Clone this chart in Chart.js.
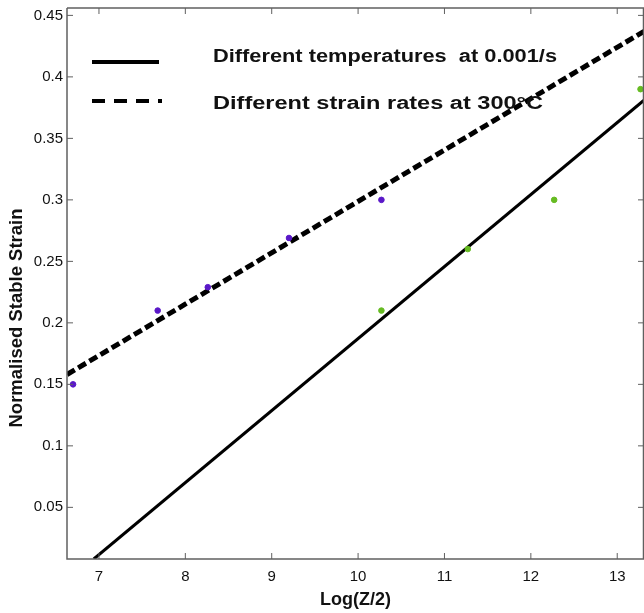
<!DOCTYPE html>
<html>
<head>
<meta charset="utf-8">
<script src="https://cdn.jsdelivr.net/npm/chart.js@4/dist/chart.umd.min.js"></script>
<style>
html,body{margin:0;padding:0;background:#fff;}
#c{display:block;}
</style>
</head>
<body>
<canvas id="c" width="644" height="613"></canvas>
<script>
// ---- data ----
const strainRateX = [6.70, 7.68, 8.26, 9.20, 10.27];
const strainRateY = [0.150, 0.210, 0.229, 0.269, 0.300];
const tempX = [10.27, 11.27, 12.27, 13.27];
const tempY = [0.210, 0.260, 0.300, 0.390];
// fitted lines (endpoints)
const tempFitX = [6.94, 13.31];
const tempFitY = [0.008, 0.381];
const rateFitX = [6.63, 13.31];
const rateFitY = [0.158, 0.437];
const xTicks = [7, 8, 9, 10, 11, 12, 13];
const yTicks = [0.05, 0.1, 0.15, 0.2, 0.25, 0.3, 0.35, 0.4, 0.45];
const legendLabels = ['Different temperatures  at 0.001/s', 'Different strain rates at 300\u00B0C'];
const yTitle = 'Normalised Stable Strain';

const toPts = (xs, ys) => xs.map((x, i) => ({x: x, y: ys[i]}));
const FONT = '"Liberation Sans", Arial, sans-serif';
const AXIS = '#606060';

function stretchedText(ctx, text, x, y, targetW) {
  const w = ctx.measureText(text).width;
  const sx = targetW / w;
  ctx.save();
  ctx.translate(x, y);
  ctx.scale(sx, 1);
  ctx.fillText(text, 0, 0);
  ctx.restore();
}

const framePlugin = {
  id: 'frame',
  afterDatasetsDraw(chart) {
    const {ctx, chartArea: a, scales} = chart;
    ctx.save();
    ctx.strokeStyle = AXIS;
    ctx.lineWidth = 1.5;
    ctx.beginPath();
    ctx.moveTo(a.left, a.top); ctx.lineTo(a.right, a.top);
    ctx.moveTo(a.left, a.top); ctx.lineTo(a.left, a.bottom);
    ctx.lineTo(a.right, a.bottom);
    ctx.moveTo(a.right - 0.5, a.top); ctx.lineTo(a.right - 0.5, a.bottom);
    ctx.stroke();
    // inward ticks
    ctx.lineWidth = 1;
    ctx.beginPath();
    const tl = 6;
    scales.x.ticks.forEach(t => {
      const px = scales.x.getPixelForValue(t.value);
      ctx.moveTo(px, a.bottom); ctx.lineTo(px, a.bottom - tl);
      ctx.moveTo(px, a.top); ctx.lineTo(px, a.top + tl);
    });
    scales.y.ticks.forEach(t => {
      const py = scales.y.getPixelForValue(t.value);
      ctx.moveTo(a.left, py); ctx.lineTo(a.left + tl, py);
      ctx.moveTo(a.right, py); ctx.lineTo(a.right - tl, py);
    });
    ctx.stroke();
    // legend
    ctx.fillStyle = '#111';
    ctx.font = 'bold 18px ' + FONT;
    ctx.textBaseline = 'middle';
    ctx.textAlign = 'left';
    ctx.strokeStyle = '#000';
    ctx.lineWidth = 4;
    ctx.setLineDash([]);
    ctx.beginPath(); ctx.moveTo(92, 62); ctx.lineTo(159, 62); ctx.stroke();
    ctx.setLineDash([13, 9]);
    ctx.beginPath(); ctx.moveTo(92, 101); ctx.lineTo(162, 101); ctx.stroke();
    ctx.setLineDash([]);
    stretchedText(ctx, legendLabels[0], 213, 57, 344);
    stretchedText(ctx, legendLabels[1], 213, 104, 330);
    // y title
    ctx.save();
    ctx.translate(16.5, 318);
    ctx.rotate(-Math.PI / 2);
    ctx.textAlign = 'center';
    ctx.font = 'bold 18.5px ' + FONT;
    ctx.fillText(yTitle, 0, 0);
    ctx.restore();
    ctx.restore();
  }
};

new Chart(document.getElementById('c'), {
  type: 'scatter',
  data: {
    datasets: [
      {label: legendLabels[0] + ' fit', data: toPts(tempFitX, tempFitY), showLine: true,
       borderColor: '#000', borderWidth: 3, pointRadius: 0, order: 2},
      {label: legendLabels[1] + ' fit', data: toPts(rateFitX, rateFitY), showLine: true,
       borderColor: '#000', borderWidth: 5, borderDash: [9, 4], pointRadius: 0, order: 2},
      {label: 'strain rates', data: toPts(strainRateX, strainRateY), showLine: false,
       backgroundColor: '#5a18c8', borderColor: '#5a18c8', pointRadius: 2.8, order: 1},
      {label: 'temperatures', data: toPts(tempX, tempY), showLine: false,
       backgroundColor: '#66bb22', borderColor: '#66bb22', pointRadius: 2.8, order: 1}
    ]
  },
  options: {
    responsive: false,
    animation: false,
    devicePixelRatio: 1,
    layout: {autoPadding: false, padding: {top: 8, right: 0, left: 0, bottom: 0}},
    plugins: {legend: {display: false}, tooltip: {enabled: false}},
    scales: {
      x: {
        type: 'linear', min: 6.63, max: 13.31,
        afterBuildTicks: s => { s.ticks = xTicks.map(v => ({value: v})); },
        afterFit: s => { s.height = 54; s.paddingLeft = 0; s.paddingRight = 0; },
        grid: {display: false, drawTicks: false},
        border: {display: false},
        ticks: {padding: 9, color: '#111', font: {family: FONT, size: 15},
                callback: v => String(v)},
        title: {display: true, text: 'Log(Z/2)', color: '#111',
                font: {family: FONT, size: 18, weight: 'bold'}, padding: {top: 0, bottom: 2}}
      },
      y: {
        type: 'linear', min: 0.008, max: 0.456,
        afterBuildTicks: s => { s.ticks = yTicks.map(v => ({value: v})); },
        afterFit: s => { s.width = 67; s.paddingTop = 0; s.paddingBottom = 0; },
        grid: {display: false, drawTicks: false},
        border: {display: false},
        ticks: {padding: 4, color: '#111', font: {family: FONT, size: 15},
                callback: v => String(v)},
        title: {display: false}
      }
    }
  },
  plugins: [framePlugin]
});
</script>
</body>
</html>
